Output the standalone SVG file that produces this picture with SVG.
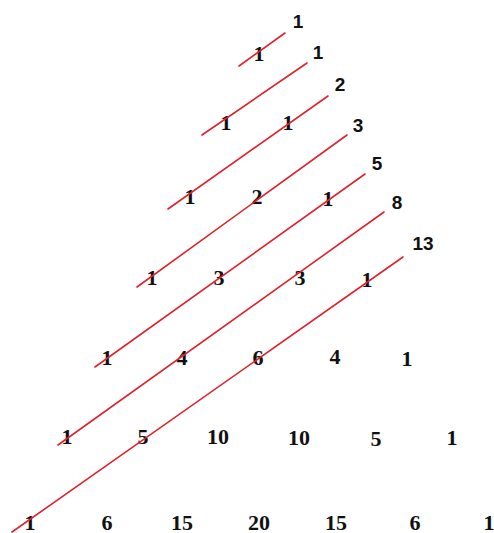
<svg xmlns="http://www.w3.org/2000/svg" width="494" height="533" viewBox="0 0 494 533">
<style>
.n{font-family:"Liberation Serif","Times New Roman",serif;font-weight:bold;font-size:22px;fill:#111;text-anchor:middle}
.s{font-family:"Liberation Sans",Arial,sans-serif;font-weight:bold;font-size:19px;fill:#111;text-anchor:middle}
.d{stroke:#e0222c;stroke-width:1.6;fill:none;stroke-linecap:round}
</style>
<rect width="494" height="533" fill="#fff"/>
<g id="triangle">
<g id="row0"><text class="n" x="259" y="61">1</text></g>
<g id="row1"><text class="n" x="226" y="130">1</text><text class="n" x="288" y="130">1</text></g>
<g id="row2"><text class="n" x="190" y="204">1</text><text class="n" x="257" y="204">2</text><text class="n" x="328" y="206">1</text></g>
<g id="row3"><text class="n" x="152" y="285">1</text><text class="n" x="219" y="285">3</text><text class="n" x="300" y="285">3</text><text class="n" x="367" y="287">1</text></g>
<g id="row4"><text class="n" x="107" y="365">1</text><text class="n" x="182" y="365">4</text><text class="n" x="258" y="365">6</text><text class="n" x="335" y="364">4</text><text class="n" x="407" y="366">1</text></g>
<g id="row5"><text class="n" x="67" y="444">1</text><text class="n" x="143" y="444">5</text><text class="n" x="218" y="444">10</text><text class="n" x="299" y="445">10</text><text class="n" x="376" y="446">5</text><text class="n" x="452" y="445">1</text></g>
<g id="row6"><text class="n" x="30" y="530">1</text><text class="n" x="107" y="530">6</text><text class="n" x="182" y="530">15</text><text class="n" x="259" y="530">20</text><text class="n" x="336" y="530">15</text><text class="n" x="415" y="530">6</text><text class="n" x="489" y="530">1</text></g>
</g>
<g id="sums">
<text class="s" x="298" y="28">1</text>
<text class="s" x="318" y="59">1</text>
<text class="s" x="340" y="91">2</text>
<text class="s" x="358" y="132">3</text>
<text class="s" x="377" y="170">5</text>
<text class="s" x="397" y="209">8</text>
<text class="s" x="423" y="250">13</text>
</g>
<g id="connectors">
<line class="d" x1="239" y1="66" x2="285" y2="33"/>
<line class="d" x1="202" y1="135" x2="307" y2="63"/>
<line class="d" x1="168" y1="209" x2="328" y2="96"/>
<line class="d" x1="137" y1="287" x2="347" y2="135"/>
<line class="d" x1="95" y1="367" x2="365" y2="174"/>
<line class="d" x1="58" y1="445" x2="384" y2="212"/>
<line class="d" x1="12" y1="532" x2="403" y2="257"/>
</g>
</svg>
